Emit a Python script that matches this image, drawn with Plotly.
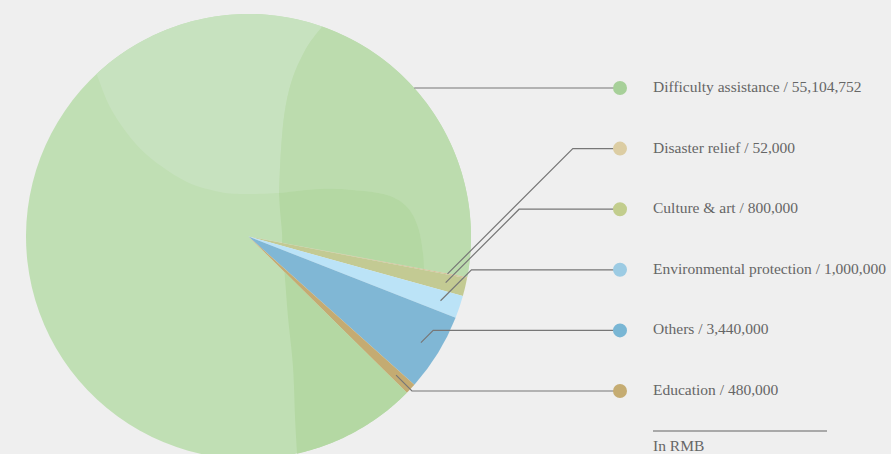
import math
import plotly.graph_objects as go

# ---------------- data ----------------
categories = ["Difficulty assistance", "Disaster relief", "Culture & art",
              "Environmental protection", "Others", "Education"]
values = [55104752, 52000, 800000, 1000000, 3440000, 480000]
value_labels = ["55,104,752", "52,000", "800,000", "1,000,000", "3,440,000", "480,000"]
unit_label = "In RMB"

slice_colors = ["#c0dfb4", "#d8c29c", "#c3ca93", "#bbe3f7", "#80b7d5", "#c4ab72"]
dot_colors = ["#a7d099", "#dccda3", "#c2cd8d", "#9ccbe3", "#79b6d4", "#c5ac72"]

# ---------------- geometry (pixels) ----------------
W, H = 891, 470
CX, CY, R = 248.5, 236.5, 222.5
START_DEG = 10.5            # small slices begin this far below 3 o'clock
DOT_X, DOT_Y0, DOT_STEP, DOT_R = 620, 88.0, 60.6, 7
TEXT_X = 651
FONT = dict(family="Liberation Serif", size=15.5, color="#666666")


def P(x, y):
    return x / W, 1 - y / H


total = float(sum(values))
rotation = 90 + START_DEG - 360 * values[0] / total

# slice angles (screen, clockwise from 3 o'clock)
bounds = []
cum = 0.0
for v in values:
    a0 = rotation - 90 + 360 * cum / total
    cum += v
    a1 = rotation - 90 + 360 * cum / total
    bounds.append((a0, a1))
phi_s = bounds[1][0]
phi_e = bounds[-1][1]


def circ(phi, r=R):
    return CX + r * math.cos(math.radians(phi)), CY + r * math.sin(math.radians(phi))


def arc(p0, p1, n=60):
    return [circ(p0 + (p1 - p0) * k / n) for k in range(n + 1)]


def ang(x, y):
    return math.degrees(math.atan2(y - CY, x - CX))


def smooth(pts, n=8):
    out = []
    m = len(pts)
    for i in range(m - 1):
        p0 = pts[max(i - 1, 0)]
        p1 = pts[i]
        p2 = pts[i + 1]
        p3 = pts[min(i + 2, m - 1)]
        for k in range(n):
            t = k / n
            t2, t3 = t * t, t * t * t
            x = 0.5 * ((2 * p1[0]) + (-p0[0] + p2[0]) * t + (2 * p0[0] - 5 * p1[0] + 4 * p2[0] - p3[0]) * t2 + (-p0[0] + 3 * p1[0] - 3 * p2[0] + p3[0]) * t3)
            y = 0.5 * ((2 * p1[1]) + (-p0[1] + p2[1]) * t + (2 * p0[1] - 5 * p1[1] + 4 * p2[1] - p3[1]) * t2 + (-p0[1] + 3 * p1[1] - 3 * p2[1] + p3[1]) * t3)
            out.append((x, y))
    out.append(pts[-1])
    return out


def edge_at_x(phi, x):
    return (x, CY + (x - CX) * math.tan(math.radians(phi)))


def path(pts):
    s = "M " + " L ".join("%.5f,%.5f" % P(x, y) for x, y in pts) + " Z"
    return s


# decorative shading curves (pixels)
A = (97, 75)
T = (322, 27)
J = (279, 193)
B = (297, 453.7)
dark_top = [T, (307, 47), (293, 77), (285, 110), (281, 150), J]          # T -> J
light_left = [J, (247, 194), (220, 192), (187, 182), (153, 160), (130, 137), (110, 107), A]  # J -> A
E1 = edge_at_x(phi_s, 424)
light_right = [E1, (423, 253), (418, 227), (407, 207), (387, 195), (353, 190), (320, 189), J]  # E1 -> J
E2 = edge_at_x(phi_s, 282)
dark_mid = [E2, (282, 233), (280, 210), J]
E3 = edge_at_x(phi_e, 284.5)
dark_bottom = [B, (295, 417), (293, 367), (288, 317), (285.5, 285), E3]

light_poly = arc(ang(*A), ang(*T)) + smooth(dark_top)[1:] + smooth(light_left)[1:]
upper_right_poly = arc(ang(*T), phi_s) + smooth(light_right) + list(reversed(smooth(dark_top)))[1:]
dark_upper_poly = list(reversed(smooth(light_right))) + [E2] + smooth(dark_mid)[1:]
dark_lower_poly = arc(phi_e, ang(*B)) + smooth(dark_bottom)[1:] + [circ(phi_e)]

shapes = []
for poly, col in [(light_poly, "#c7e2bf"), (upper_right_poly, "#bcdcae"),
                  (dark_upper_poly, "#b4d8a3"), (dark_lower_poly, "#b4d8a3")]:
    shapes.append(dict(type="path", xref="paper", yref="paper", path=path(poly),
                       fillcolor=col, line=dict(width=0), layer="above"))

# leader lines + dots
annotations = []
for i, (cat, lab) in enumerate(zip(categories, value_labels)):
    dy = DOT_Y0 + DOT_STEP * i
    if i == 0:
        ex = CX + math.sqrt(R * R - (CY - dy) ** 2)
        pts = [(ex, dy), (DOT_X, dy)]
    else:
        mid = 0.5 * (bounds[i][0] + bounds[i][1])
        ax, ay = circ(mid, 0.91 * R)
        elbow = (ax + abs(ay - dy), dy)
        pts = [(ax, ay), elbow, (DOT_X, dy)]
    shapes.append(dict(type="path", xref="paper", yref="paper",
                       path="M " + " L ".join("%.5f,%.5f" % P(x, y) for x, y in pts),
                       line=dict(color="#777777", width=1.2), layer="above"))
    x0, y0 = P(DOT_X - DOT_R, dy + DOT_R)
    x1, y1 = P(DOT_X + DOT_R, dy - DOT_R)
    shapes.append(dict(type="circle", xref="paper", yref="paper", x0=x0, x1=x1, y0=y0, y1=y1,
                       fillcolor=dot_colors[i], line=dict(width=0), layer="above"))
    tx, ty = P(TEXT_X, dy - 1.5)
    annotations.append(dict(x=tx, y=ty, xref="paper", yref="paper", xanchor="left", yanchor="middle",
                            text=f"{cat} / {lab}", showarrow=False, font=FONT))

# unit note
lx0, ly = P(653, 431)
lx1, _ = P(827, 431)
shapes.append(dict(type="line", xref="paper", yref="paper", x0=lx0, x1=lx1, y0=ly, y1=ly,
                   line=dict(color="#929292", width=1.3), layer="above"))
tx, ty = P(TEXT_X, 445.5)
annotations.append(dict(x=tx, y=ty, xref="paper", yref="paper", xanchor="left", yanchor="middle",
                        text=unit_label, showarrow=False, font=FONT))

dx0, dy1 = P(CX - R, CY - R)
dx1, dy0 = P(CX + R, CY + R)

fig = go.Figure(go.Pie(
    labels=categories, values=values, sort=False, direction="clockwise",
    rotation=rotation, textinfo="none", hoverinfo="label+value",
    marker=dict(colors=slice_colors, line=dict(width=0)),
    domain=dict(x=[dx0, dx1], y=[max(dy0, 0), min(dy1, 1)]),
    showlegend=False,
))
fig.update_layout(
    width=W, height=H, margin=dict(l=0, r=0, t=0, b=0),
    paper_bgcolor="#efefef", plot_bgcolor="#efefef",
    shapes=shapes, annotations=annotations,
)
fig.write_html("out.html", config={"displayModeBar": False},
               post_script="document.body.style.margin='0';document.body.style.overflow='hidden';")
